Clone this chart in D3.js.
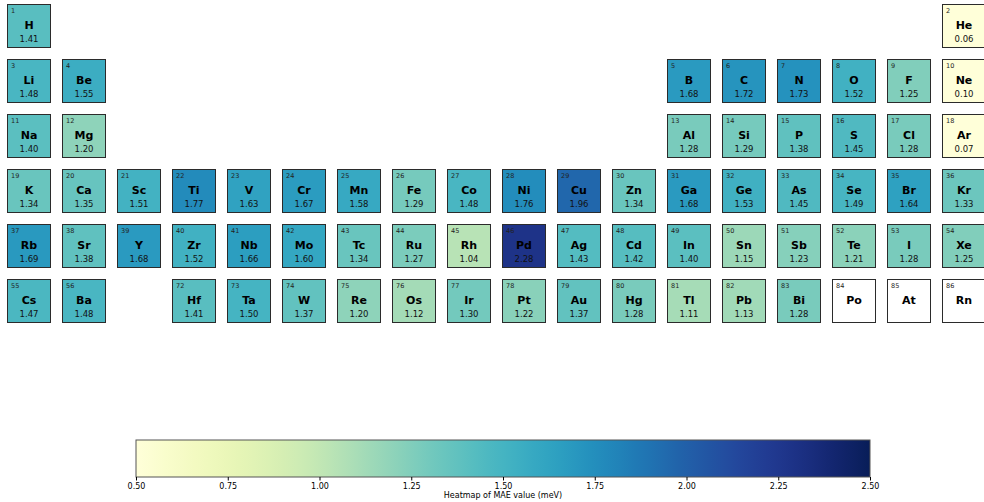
<!DOCTYPE html>
<html><head><meta charset="utf-8">
<script src="https://cdn.jsdelivr.net/npm/d3@7"></script>
<style>body{margin:0;background:#fff}svg{display:block;font-family:"DejaVu Sans",sans-serif}</style>
</head><body><svg id="c" width="984" height="502"></svg>
<script>
const symbols = ["H","He","Li","Be","B","C","N","O","F","Ne","Na","Mg","Al","Si","P","S","Cl","Ar",
 "K","Ca","Sc","Ti","V","Cr","Mn","Fe","Co","Ni","Cu","Zn","Ga","Ge","As","Se","Br","Kr",
 "Rb","Sr","Y","Zr","Nb","Mo","Tc","Ru","Rh","Pd","Ag","Cd","In","Sn","Sb","Te","I","Xe",
 "Cs","Ba","Hf","Ta","W","Re","Os","Ir","Pt","Au","Hg","Tl","Pb","Bi","Po","At","Rn"];
const atomicNumbers = [1,2,3,4,5,6,7,8,9,10,11,12,13,14,15,16,17,18,
 19,20,21,22,23,24,25,26,27,28,29,30,31,32,33,34,35,36,
 37,38,39,40,41,42,43,44,45,46,47,48,49,50,51,52,53,54,
 55,56,72,73,74,75,76,77,78,79,80,81,82,83,84,85,86];
const maeValues = [1.41,0.06,1.48,1.55,1.68,1.72,1.73,1.52,1.25,0.10,1.40,1.20,1.28,1.29,1.38,1.45,1.28,0.07,
 1.34,1.35,1.51,1.77,1.63,1.67,1.58,1.29,1.48,1.76,1.96,1.34,1.68,1.53,1.45,1.49,1.64,1.33,
 1.69,1.38,1.68,1.52,1.66,1.60,1.34,1.27,1.04,2.28,1.43,1.42,1.40,1.15,1.23,1.21,1.28,1.25,
 1.47,1.48,1.41,1.50,1.37,1.20,1.12,1.30,1.22,1.37,1.28,1.11,1.13,1.28,null,null,null];
const colorTicks = [0.5,0.75,1.0,1.25,1.5,1.75,2.0,2.25,2.5];
const colorDomain = [0.5,2.5];
const colorLabel = "Heatmap of MAE value (meV)";

function position(z){
  const starts=[1,3,11,19,37,55,87];
  let p=0; while(p<6 && z>=starts[p+1]) p++;
  const k=z-starts[p];
  let g;
  if(p===0) g = z===1?1:18;
  else if(p<=2) g = k<2?k+1:k+11;
  else if(p<=4) g = k+1;
  else g = k<2?k+1:(z>=72? z-72+4 : 3);
  return {period:p+1, group:g};
}
const data = symbols.map((s,i)=>Object.assign({sym:s,z:atomicNumbers[i],v:maeValues[i]},position(atomicNumbers[i])));

const svg=d3.select("#c");
const cell=43;
const x=d3.scaleLinear().domain([1,18]).range([7,942]);
const y=d3.scaleLinear().domain([1,6]).range([4,279]);
const color=d3.scaleSequential(d3.interpolateYlGnBu).domain(colorDomain).clamp(true);

const g=svg.selectAll("g.el").data(data).join("g").attr("class","el")
  .attr("transform",d=>`translate(${x(d.group)},${y(d.period)})`);
g.append("rect").attr("x",0.5).attr("y",0.5).attr("width",cell).attr("height",cell)
  .attr("fill",d=>d.v==null?"#fff":color(d.v)).attr("stroke","#2b2b2b").attr("stroke-width",1);
g.append("text").attr("x",4).attr("y",9).attr("font-size",6.5).attr("fill","#222").text(d=>d.z);
g.append("text").attr("x",cell/2+0.5).attr("y",25).attr("text-anchor","middle")
  .attr("font-size",11).attr("font-weight","bold").attr("fill","#000").text(d=>d.sym);
g.append("text").attr("x",cell/2+0.5).attr("y",38).attr("text-anchor","middle")
  .attr("font-size",8.5).attr("fill","#111").text(d=>d.v==null?"":d.v.toFixed(2));

// colorbar
const cb=d3.scaleLinear().domain(colorDomain).range([136,870]);
const defs=svg.append("defs");
const grad=defs.append("linearGradient").attr("id","cbg");
d3.range(0,1.0001,0.02).forEach(t=>{
  grad.append("stop").attr("offset",t).attr("stop-color",color(colorDomain[0]+t*(colorDomain[1]-colorDomain[0])));
});
svg.append("rect").attr("x",136).attr("y",440).attr("width",734).attr("height",37)
  .attr("fill","url(#cbg)").attr("stroke","#555").attr("stroke-width",1);
const ax=svg.append("g").attr("transform","translate(0,477)")
  .call(d3.axisBottom(cb).tickValues(colorTicks).tickFormat(d3.format(".2f")).tickSize(3.5).tickSizeOuter(0));
ax.select(".domain").remove();
ax.selectAll("text").attr("font-size",8).attr("font-family","DejaVu Sans").attr("fill","#000").attr("dy","0.75em").attr("y",6);
ax.selectAll("line").attr("stroke","#000");
svg.append("text").attr("x",503).attr("y",498).attr("text-anchor","middle").attr("font-size",8)
  .attr("fill","#000").text(colorLabel);
</script></body></html>
